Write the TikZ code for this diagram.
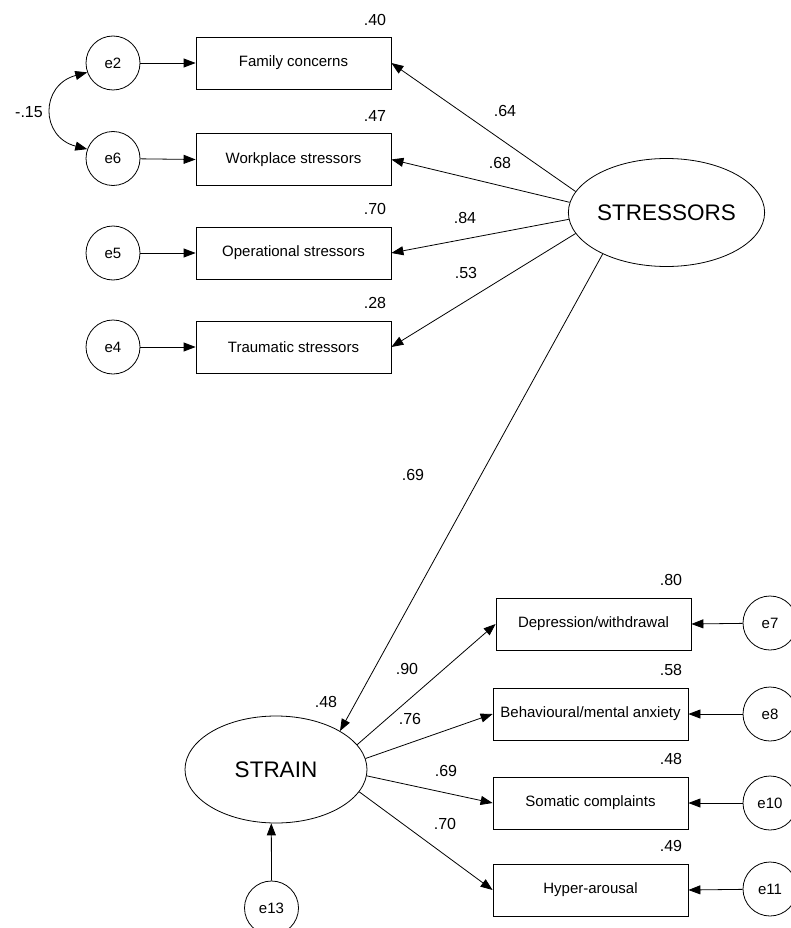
\documentclass[tikz,border=0pt]{standalone}
\usepackage{fontspec}
\setmainfont{Liberation Sans}
\usetikzlibrary{shapes.geometric,arrows.meta}

\tikzset{
  obs/.style={draw, rectangle, minimum width=195pt, minimum height=52pt, inner sep=0pt,
              font=\fontsize{15}{18}\selectfont},
  err/.style={draw, circle, minimum size=54pt, inner sep=0pt,
              font=\fontsize{15}{18}\selectfont},
  lat/.style={draw, ellipse, inner sep=0pt, font=\fontsize{22.5}{26}\selectfont},
  coef/.style={inner sep=0pt, font=\fontsize{16}{19}\selectfont},
  arr/.style={-{Triangle[length=12pt,width=9pt]}, line width=0.8pt},
  every node/.append style={line width=0.8pt}
}

\begin{document}
\begin{tikzpicture}[x=1pt,y=-1pt]
\useasboundingbox (0,0) rectangle (790,928);

% latent variables
\node[lat, minimum width=179pt, minimum height=108pt] (S) at (666.5,212.5) {STRESSORS};
\node[lat, minimum width=182pt, minimum height=107pt] (R) at (276,769.5) {STRAIN};

% stressor indicators
\node[obs] (fc) at (293.5,63)    {Family concerns};
\node[obs] (ws) at (293.5,159.5) {Workplace stressors};
\node[obs] (os) at (293.5,253)   {Operational stressors};
\node[obs] (ts) at (293.5,347)   {Traumatic stressors};

% strain indicators
\node[obs] (dw) at (593.5,624) {Depression/withdrawal};
\node[obs] (ba) at (590.5,714) {Behavioural/mental anxiety};
\node[obs] (sc) at (590.5,803) {Somatic complaints};
\node[obs] (ha) at (590.5,890) {Hyper-arousal};

% error terms
\node[err] (e2) at (113,63)    {e2};
\node[err] (e6) at (113,158.5) {e6};
\node[err] (e5) at (113,253)   {e5};
\node[err] (e4) at (113,347)   {e4};
\node[err] (e7)  at (770,623) {e7};
\node[err] (e8)  at (770,714) {e8};
\node[err] (e10) at (770,803) {e10};
\node[err] (e11) at (770,889) {e11};
\node[err] (e13) at (271.5,908) {e13};

% error paths
\draw[arr] (e2) -- (fc.west);
\draw[arr] (e6) -- (ws.west);
\draw[arr] (e5) -- (os.west);
\draw[arr] (e4) -- (ts.west);
\draw[arr] (e7)  -- (dw.east);
\draw[arr] (e8)  -- (ba.east);
\draw[arr] (e10) -- (sc.east);
\draw[arr] (e11) -- (ha.east);
\draw[arr] (e13.north) -- (R.265);

% error covariance
\draw[{Triangle[length=12pt,width=9pt]}-{Triangle[length=12pt,width=9pt]}, line width=0.8pt]
  (e2.200) .. controls (40,85) and (40,137) .. (e6.160);

% loadings
\draw[arr] (S.167)   -- (fc.east);
\draw[arr] (S.174.6) -- (ws.east);
\draw[arr] (S.184)   -- (os.east);
\draw[arr] (S.193.6) -- (ts.east);
\draw[arr] (S.213)   -- (R.31.7);
\draw[arr] (R.17.3)  -- (dw.west);
\draw[arr] (R.7.3)   -- (ba.west);
\draw[arr] (R.-4.7)  -- (sc.west);
\draw[arr] (R.-15.2) -- (ha.west);

% coefficients
\node[coef] (c15) at (29,112)  {-.15};
\node[coef] (r40) at (375,20)  {.40};
\node[coef] (r47) at (375,116) {.47};
\node[coef] (r70) at (375,209) {.70};
\node[coef] (r28) at (375,303) {.28};
\node[coef] (l64) at (505,111) {.64};
\node[coef] (l68) at (500,163) {.68};
\node[coef] (l84) at (465,218) {.84};
\node[coef] (l53) at (466,273) {.53};
\node[coef] (b69) at (413,475) {.69};
\node[coef] (r48s) at (326,702) {.48};
\node[coef] (l90) at (407,669) {.90};
\node[coef] (l76) at (410,719) {.76};
\node[coef] (l69) at (446,771) {.69};
\node[coef] (l70) at (445,824) {.70};
\node[coef] (r80) at (671,580) {.80};
\node[coef] (r58) at (671,670) {.58};
\node[coef] (r48) at (671,759) {.48};
\node[coef] (r49) at (671,846) {.49};
\end{tikzpicture}
\end{document}
